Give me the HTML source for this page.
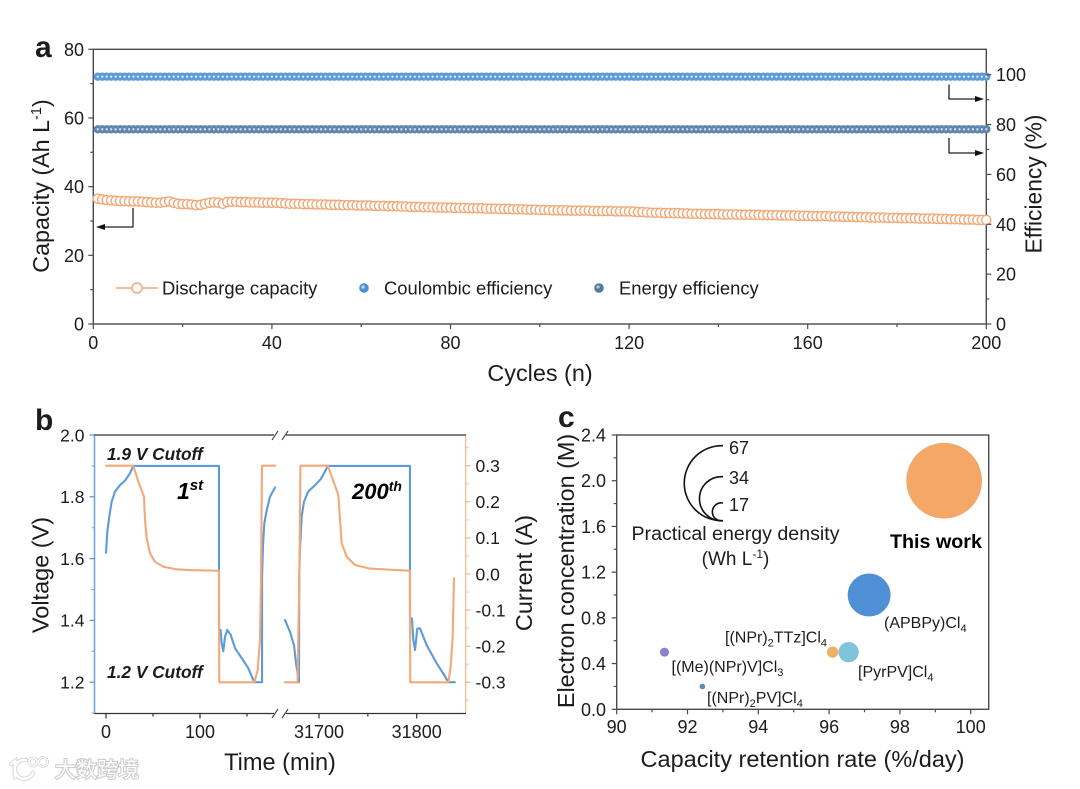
<!DOCTYPE html>
<html lang="en">
<head>
<meta charset="utf-8">
<title>Flow battery performance figure</title>
<style>
html,body{margin:0;padding:0;background:#fff;}
svg{display:block;font-family:"Liberation Sans","Noto Sans CJK SC",sans-serif;fill:#1c1c1c;}
</style>
</head>
<body>
<svg id="fig" xmlns="http://www.w3.org/2000/svg" width="1080" height="789" viewBox="0 0 1080 789">
  <rect x="0" y="0" width="1080" height="789" fill="#fff"/>

  <!-- Panel letters -->
  <text x="35" y="57" font-size="30" font-weight="bold">a</text>
  <text x="35" y="430" font-size="30" font-weight="bold">b</text>
  <text x="558" y="427" font-size="30" font-weight="bold">c</text>

  <!-- Panel a static -->
  <g id="panelA">
    <rect x="93.3" y="49.3" width="893" height="274.7" fill="none" stroke="#4a4a4a" stroke-width="1.4"/>
    <g id="a-series"></g>
    <g id="a-axes"></g>
    <text transform="translate(49,186) rotate(-90)" text-anchor="middle" font-size="23.3">Capacity (Ah L<tspan dy="-8" font-size="14.5">-1</tspan><tspan dy="8">)</tspan></text>
    <text transform="translate(1041.5,184) rotate(-90)" text-anchor="middle" font-size="22.8">Efficiency (%)</text>
    <text x="540" y="381" text-anchor="middle" font-size="23.4">Cycles (n)</text>

    <path d="M133 208V227H101" fill="none" stroke="#222" stroke-width="1.3"/>
    <path d="M96 227l9-3v6z" fill="#111"/>
    <path d="M949 84.5V99H978" fill="none" stroke="#222" stroke-width="1.3"/>
    <path d="M984 99l-9-3v6z" fill="#111"/>
    <path d="M949 138V153H978" fill="none" stroke="#222" stroke-width="1.3"/>
    <path d="M984 153l-9-3v6z" fill="#111"/>

    <g>
      <path d="M116 288H158" stroke="#F2A877" stroke-width="1.4" fill="none"/>
      <circle cx="137" cy="288" r="5" fill="#fff" stroke="#F2A877" stroke-width="1.5"/>
      <text x="162" y="294.5" font-size="18.4">Discharge capacity</text>
    </g>
    <g>
      <circle cx="364" cy="288" r="4.8" fill="#4E90D4"/>
      <circle cx="363" cy="287" r="1.6" fill="#BBD8F2"/>
      <text x="384" y="294.5" font-size="18.4">Coulombic efficiency</text>
    </g>
    <g>
      <circle cx="599" cy="288" r="4.8" fill="#55789F"/>
      <circle cx="598" cy="287" r="1.6" fill="#B5C8DC"/>
      <text x="619" y="294.5" font-size="18.4">Energy efficiency</text>
    </g>
  </g>

  <!-- Panel b static -->
  <g id="panelB">
    <path d="M94.5 435V713" stroke="#6FA7DC" stroke-width="1.6" fill="none"/>
    <path d="M465.7 435V713" stroke="#F4BE98" stroke-width="1.4" fill="none"/>
    <path d="M94 435H274" stroke="#333" stroke-width="1.2" fill="none"/>
    <path d="M286 435H466" stroke="#333" stroke-width="1.2" fill="none"/>
    <path d="M94 713.5H274" stroke="#333" stroke-width="1.2" fill="none"/>
    <path d="M286 713.5H466" stroke="#333" stroke-width="1.2" fill="none"/>
    <path d="M272 440L278 431M282 440L288 431" stroke="#333" stroke-width="1.1" fill="none"/>
    <path d="M272 718L278 709M282 718L288 709" stroke="#333" stroke-width="1.1" fill="none"/>
    <g id="b-axes"></g>
    <g id="b-series"></g>
    <text transform="translate(48.5,575) rotate(-90)" text-anchor="middle" font-size="23.5">Voltage (V)</text>
    <text transform="translate(532,573) rotate(-90)" text-anchor="middle" font-size="23.5">Current (A)</text>
    <text x="280" y="770" text-anchor="middle" font-size="23.6">Time (min)</text>
    <text x="107" y="460" font-size="17.3" font-weight="bold" font-style="italic">1.9 V Cutoff</text>
    <text x="107" y="678" font-size="17.3" font-weight="bold" font-style="italic">1.2 V Cutoff</text>
    <text x="177" y="499" font-size="23" font-weight="bold" font-style="italic" fill="#000">1<tspan dy="-9" font-size="15">st</tspan></text>
    <text x="352" y="499" font-size="22" font-weight="bold" font-style="italic" fill="#000">200<tspan dy="-8" font-size="14">th</tspan></text>
  </g>

  <!-- Panel c static -->
  <g id="panelC">
    <rect x="616.7" y="435" width="372" height="274.3" fill="none" stroke="#4a4a4a" stroke-width="1.4"/>
    <g id="c-axes"></g>
    <g id="c-series"></g>
    <text transform="translate(574,571) rotate(-90)" text-anchor="middle" font-size="23.4">Electron concentration (M)</text>
    <text x="802.5" y="767" text-anchor="middle" font-size="23.5">Capacity retention rate (%/day)</text>
    <path d="M723 445.7A37.52 37.52 0 1 0 723 520.7" fill="none" stroke="#111" stroke-width="1.6"/>
    <path d="M723 476.7A22.05 22.05 0 1 0 723 520.7" fill="none" stroke="#111" stroke-width="1.6"/>
    <path d="M723 503A9 9 0 1 0 723 520.7" fill="none" stroke="#111" stroke-width="1.6"/>
    <text x="729" y="454" font-size="18">67</text>
    <text x="729" y="484" font-size="18">34</text>
    <text x="729" y="511" font-size="18">17</text>
    <text x="735.5" y="540" text-anchor="middle" font-size="19.6">Practical energy density</text>
    <text x="735.5" y="565" text-anchor="middle" font-size="19">(Wh L<tspan dy="-7" font-size="12">-1</tspan><tspan dy="7">)</tspan></text>
    <text x="890" y="548" font-size="19.7" font-weight="bold" fill="#000">This work</text>
    <text x="884" y="628" font-size="16">(APBPy)Cl<tspan dy="4" font-size="11">4</tspan></text>
    <text x="858" y="677" font-size="16">[PyrPV]Cl<tspan dy="4" font-size="11">4</tspan></text>
    <text x="725" y="642.5" font-size="16">[(NPr)<tspan dy="4" font-size="11">2</tspan><tspan dy="-4">TTz]Cl</tspan><tspan dy="4" font-size="11">4</tspan></text>
    <text x="671.5" y="672" font-size="16">[(Me)(NPr)V]Cl<tspan dy="4" font-size="11">3</tspan></text>
    <text x="707" y="703" font-size="16">[(NPr)<tspan dy="4" font-size="11">2</tspan><tspan dy="-4">PV]Cl</tspan><tspan dy="4" font-size="11">4</tspan></text>
  </g>

  <!-- Watermark -->
  <g>
    <g fill="none" stroke-linecap="round">
      <path d="M11 764L15 761V777M33 773A9.5 9.5 0 1 1 26 760" stroke="#d4d4d4" stroke-width="4.5"/>
      <circle cx="33" cy="762" r="4" stroke="#d4d4d4" stroke-width="2.8"/>
      <circle cx="43" cy="762" r="4.5" stroke="#d4d4d4" stroke-width="2.8"/>
      <path d="M11 764L15 761V777M33 773A9.5 9.5 0 1 1 26 760" stroke="#fff" stroke-width="2.6"/>
      <circle cx="33" cy="762" r="4" stroke="#fff" stroke-width="1.3"/>
      <circle cx="43" cy="762" r="4.5" stroke="#fff" stroke-width="1.3"/>
    </g>
    <text x="55" y="777" font-size="21" fill="#fff" stroke="#cdcdcd" stroke-width="2.2" paint-order="stroke" style="font-family:'Liberation Sans','Noto Sans CJK SC',sans-serif;">大数跨境</text>
  </g>
</svg>

<script>
/* ---------- Panel a data ---------- */
const capacity = [
36.5,36.3,36.1,36.0,35.9,35.8,35.8,35.7,35.7,35.7,
35.6,35.5,35.4,35.3,35.3,35.5,35.7,35.3,35.0,34.9,
34.9,34.8,34.6,34.7,35.0,35.3,35.4,35.3,35.0,35.5,
35.6,35.6,35.5,35.5,35.4,35.4,35.4,35.3,35.3,35.3,
35.3,35.2,35.1,35.0,35.0,35.0,34.9,34.9,34.9,34.8,
34.8,34.8,34.7,34.7,34.7,34.6,34.6,34.6,34.5,34.5,
34.5,34.5,34.4,34.4,34.4,34.3,34.3,34.3,34.2,34.2,
34.1,34.1,34.1,34.0,34.0,34.0,33.9,33.9,33.9,33.9,
33.8,33.8,33.8,33.7,33.7,33.7,33.7,33.6,33.6,33.6,
33.5,33.5,33.5,33.4,33.4,33.4,33.3,33.3,33.3,33.2,
33.2,33.2,33.1,33.1,33.1,33.1,33.0,33.0,33.0,33.0,
33.0,32.9,32.9,32.9,32.9,32.9,32.8,32.8,32.8,32.8,
32.7,32.6,32.6,32.5,32.4,32.4,32.4,32.3,32.3,32.3,
32.3,32.2,32.2,32.1,32.1,32.1,32.0,32.0,32.0,32.0,
31.9,31.9,31.9,31.9,31.8,31.8,31.8,31.8,31.8,31.7,
31.7,31.7,31.7,31.6,31.6,31.6,31.6,31.5,31.5,31.5,
31.4,31.4,31.4,31.4,31.3,31.3,31.3,31.2,31.2,31.2,
31.1,31.1,31.1,31.0,31.0,31.0,31.0,30.9,30.9,30.9,
30.8,30.8,30.8,30.8,30.7,30.7,30.7,30.7,30.6,30.6,
30.6,30.5,30.5,30.5,30.4,30.4,30.4,30.3,30.3,30.3];
const coulombicEfficiency = [
99.2,99.2,99.2,99.2,99.2,99.2,99.2,99.2,99.2,99.2,99.2,99.2,99.2,99.2,99.2,99.2,99.2,99.2,99.2,99.2,
99.2,99.2,99.2,99.2,99.2,99.2,99.2,99.2,99.2,99.2,99.2,99.2,99.2,99.2,99.2,99.2,99.2,99.2,99.2,99.2,
99.2,99.2,99.2,99.2,99.2,99.2,99.2,99.2,99.2,99.2,99.2,99.2,99.2,99.2,99.2,99.2,99.2,99.2,99.2,99.2,
99.2,99.2,99.2,99.2,99.2,99.2,99.2,99.2,99.2,99.2,99.2,99.2,99.2,99.2,99.2,99.2,99.2,99.2,99.2,99.2,
99.2,99.2,99.2,99.2,99.2,99.2,99.2,99.2,99.2,99.2,99.2,99.2,99.2,99.2,99.2,99.2,99.2,99.2,99.2,99.2,
99.2,99.2,99.2,99.2,99.2,99.2,99.2,99.2,99.2,99.2,99.2,99.2,99.2,99.2,99.2,99.2,99.2,99.2,99.2,99.2,
99.2,99.2,99.2,99.2,99.2,99.2,99.2,99.2,99.2,99.2,99.2,99.2,99.2,99.2,99.2,99.2,99.2,99.2,99.2,99.2,
99.2,99.2,99.2,99.2,99.2,99.2,99.2,99.2,99.2,99.2,99.2,99.2,99.2,99.2,99.2,99.2,99.2,99.2,99.2,99.2,
99.2,99.2,99.2,99.2,99.2,99.2,99.2,99.2,99.2,99.2,99.2,99.2,99.2,99.2,99.2,99.2,99.2,99.2,99.2,99.2,
99.2,99.2,99.2,99.2,99.2,99.2,99.2,99.2,99.2,99.2,99.2,99.2,99.2,99.2,99.2,99.2,99.2,99.2,99.2,99.2];
const energyEfficiency = [
78.1,78.1,78.1,78.1,78.1,78.1,78.1,78.1,78.1,78.1,78.1,78.1,78.1,78.1,78.1,78.1,78.1,78.1,78.1,78.1,
78.1,78.1,78.1,78.1,78.1,78.1,78.1,78.1,78.1,78.1,78.1,78.1,78.1,78.1,78.1,78.1,78.1,78.1,78.1,78.1,
78.1,78.1,78.1,78.1,78.1,78.1,78.1,78.1,78.1,78.1,78.1,78.1,78.1,78.1,78.1,78.1,78.1,78.1,78.1,78.1,
78.1,78.1,78.1,78.1,78.1,78.1,78.1,78.1,78.1,78.1,78.1,78.1,78.1,78.1,78.1,78.1,78.1,78.1,78.1,78.1,
78.1,78.1,78.1,78.1,78.1,78.1,78.1,78.1,78.1,78.1,78.1,78.1,78.1,78.1,78.1,78.1,78.1,78.1,78.1,78.1,
78.1,78.1,78.1,78.1,78.1,78.1,78.1,78.1,78.1,78.1,78.1,78.1,78.1,78.1,78.1,78.1,78.1,78.1,78.1,78.1,
78.1,78.1,78.1,78.1,78.1,78.1,78.1,78.1,78.1,78.1,78.1,78.1,78.1,78.1,78.1,78.1,78.1,78.1,78.1,78.1,
78.1,78.1,78.1,78.1,78.1,78.1,78.1,78.1,78.1,78.1,78.1,78.1,78.1,78.1,78.1,78.1,78.1,78.1,78.1,78.1,
78.1,78.1,78.1,78.1,78.1,78.1,78.1,78.1,78.1,78.1,78.1,78.1,78.1,78.1,78.1,78.1,78.1,78.1,78.1,78.1,
78.1,78.1,78.1,78.1,78.1,78.1,78.1,78.1,78.1,78.1,78.1,78.1,78.1,78.1,78.1,78.1,78.1,78.1,78.1,78.1];
const cycleTicks = [0,40,80,120,160,200];
const cycleMinorTicks = [20,60,100,140,180];
const capacityTicks = [0,20,40,60,80];
const capacityMinorTicks = [10,30,50,70];
const efficiencyTicks = [0,20,40,60,80,100];
const efficiencyMinorTicks = [10,30,50,70,90];

/* ---------- Panel b data ---------- */
const cycle1VoltageTime = [0,1.4,3.5,6,9.6,14.9,20.2,25.5,29,120.2,120.2,122,123,124.8,126.6,129,132.7,137.2,144.4,151.4,157.8,166,166,167,168.4,171,174.5,179.8];
const cycle1Voltage = [1.619,1.687,1.736,1.784,1.817,1.838,1.852,1.876,1.9,1.9,1.37,1.369,1.327,1.30,1.347,1.369,1.353,1.31,1.278,1.245,1.2,1.2,1.54,1.64,1.714,1.757,1.80,1.83];
const cycle1CurrentTime = [0,29,34.4,40.4,41.5,43.3,46.8,52.1,61,75,89,120.2,120.5,157.8,161.4,163.8,164.9,165.9,180];
const cycle1Current = [0.3,0.3,0.256,0.214,0.15,0.099,0.057,0.034,0.02,0.013,0.011,0.009,-0.3,-0.3,-0.266,-0.183,-0.017,0.3,0.3];
const cycle200VoltageTime = [31665.2,31670.3,31674.4,31676.5,31679.5,31679.8,31680.5,31682.3,31684.6,31689,31696,31701.7,31706,31709,31793.1,31793.1,31795.2,31796.5,31798.3,31800.6,31803.4,31810.2,31820.5,31827.2,31832.4,31839];
const cycle200Voltage = [1.401,1.363,1.32,1.261,1.2,1.55,1.63,1.736,1.784,1.817,1.838,1.857,1.881,1.9,1.9,1.41,1.405,1.337,1.304,1.374,1.374,1.32,1.261,1.228,1.2,1.2];
const cycle200CurrentTime = [31665,31678,31680,31681,31709,31719.8,31721.5,31723.2,31728.3,31736.8,31752,31793.1,31793.4,31832.4,31834.8,31836.8,31838.2];
const cycle200Current = [-0.3,-0.3,0,0.3,0.3,0.219,0.15,0.085,0.048,0.025,0.015,0.009,-0.3,-0.3,-0.257,-0.174,-0.012];
const timeTicks = [0,100,31700,31800];
const timeMinorTicks = [50,150,31750];
const voltageTicks = [1.2,1.4,1.6,1.8,2.0];
const voltageMinorTicks = [1.1,1.3,1.5,1.7,1.9];
const currentTicks = [-0.3,-0.2,-0.1,0,0.1,0.2,0.3];
const currentMinorTicks = [-0.35,-0.25,-0.15,-0.05,0.05,0.15,0.25,0.35];
const currentTickLabels = ['-0.3','-0.2','-0.1','0.0','0.1','0.2','0.3'];

/* ---------- Panel c data ---------- */
const bubbleNames = ['this-work','apbpy','pyrpv','npr2ttz','menprv','npr2pv'];
const retentionRate = [99.25,97.13,96.55,96.1,91.35,92.42];
const electronConc = [2.0,1.0,0.5,0.5,0.5,0.2];
const energyDensity = [67,38,18,10,8,5];
const retentionTicks = [90,92,94,96,98,100];
const retentionMinorTicks = [91,93,95,97,99];
const concTicks = [0,0.4,0.8,1.2,1.6,2.0,2.4];
const concMinorTicks = [0.2,0.6,1.0,1.4,1.8,2.2];
const bubblePalette = ['#F4A767','#4E8FD6','#7FC4D8','#EBB266','#8A80D0','#5F8DB5'];

/* ---------- Scales ---------- */
const aX = c => 93.3 + c * 4.465;
const aYL = v => 324 - v * 3.434;
const aYR = v => 324 - v * 2.493;
const bX = t => t < 1000 ? 106 + t * 0.94 : 319 + (t - 31700) * 0.977;
const bYV = v => 435 + (2 - v) * 309;
const bYC = c => 574 - c * 361;
const cX = v => 616.7 + (v - 90) * 35.4;
const cY = v => 709.3 - v * 114.3;
const cR = e => e * 0.565;

const NS = 'http://www.w3.org/2000/svg';
function make(parent, tag, attrs) {
  const el = document.createElementNS(NS, tag);
  for (const k in attrs) el.setAttribute(k, attrs[k]);
  parent.appendChild(el);
  return el;
}
function hTick(parent, name, x, y, dir, len, color) {
  const el = make(parent, 'line', {x1: x, x2: x + dir * len, y1: y, y2: y, stroke: color, 'stroke-width': 1.2});
  
  
}
function vTick(parent, name, x, y, len, color) {
  const el = make(parent, 'line', {x1: x, x2: x, y1: y, y2: y + len, stroke: color, 'stroke-width': 1.2});
  
  
}
function label(parent, name, x, y, anchor, size, str) {
  const el = make(parent, 'text', {x: x, y: y, 'text-anchor': anchor, 'font-size': size});
  el.textContent = str;
  
  
}

/* ---------- Panel a ---------- */
const aAxes = document.getElementById('a-axes');
const aSeries = document.getElementById('a-series');
const axisGrey = '#4a4a4a';
cycleTicks.forEach(v => {
  vTick(aAxes, 'cycle-tick-' + v, aX(v), 324, 5, axisGrey);
  label(aAxes, 'cycle-tick-label-' + v, aX(v), 349, 'middle', 18, String(v));
});
cycleMinorTicks.forEach(v => vTick(aAxes, 'cycle-minor-tick-' + v, aX(v), 324, 3, axisGrey));
capacityTicks.forEach(v => {
  hTick(aAxes, 'capacity-tick-' + v, 93.3, aYL(v), -1, 5, axisGrey);
  label(aAxes, 'capacity-tick-label-' + v, 84, aYL(v) + 6.5, 'end', 18, String(v));
});
capacityMinorTicks.forEach(v => hTick(aAxes, 'capacity-minor-tick-' + v, 93.3, aYL(v), -1, 3, axisGrey));
efficiencyTicks.forEach(v => {
  hTick(aAxes, 'efficiency-tick-' + v, 986.3, aYR(v), 1, 5, axisGrey);
  label(aAxes, 'efficiency-tick-label-' + v, 996, aYR(v) + 6.5, 'start', 18, String(v));
});
efficiencyMinorTicks.forEach(v => hTick(aAxes, 'efficiency-minor-tick-' + v, 986.3, aYR(v), 1, 3, axisGrey));

capacity.forEach((v, i) => {
  const pt = make(aSeries, 'circle', {cx: aX(i + 1), cy: aYL(v), r: 4.6, fill: '#fff', stroke: '#F2A877', 'stroke-width': 1.4});
  
  
});
coulombicEfficiency.forEach((v, i) => {
  const pt = make(aSeries, 'circle', {cx: aX(i + 1), cy: aYR(v), r: 4.2, fill: '#5C9BD8'});
  
  
});
coulombicEfficiency.forEach((v, i) => {
  const hi = make(aSeries, 'circle', {cx: aX(i + 1), cy: aYR(v), r: 1.15, fill: '#DCEBF8'});
  
  
});
energyEfficiency.forEach((v, i) => {
  const pt = make(aSeries, 'circle', {cx: aX(i + 1), cy: aYR(v), r: 4.2, fill: '#5F86B0'});
  
  
});
energyEfficiency.forEach((v, i) => {
  const hi = make(aSeries, 'circle', {cx: aX(i + 1), cy: aYR(v), r: 1.15, fill: '#D5E1EC'});
  
  
});

/* ---------- Panel b ---------- */
const bAxes = document.getElementById('b-axes');
const bSeries = document.getElementById('b-series');
timeTicks.forEach(v => {
  vTick(bAxes, 'time-tick-' + v, bX(v), 713.5, 5, '#333');
  label(bAxes, 'time-tick-label-' + v, bX(v), 738, 'middle', 18, String(v));
});
timeMinorTicks.forEach(v => vTick(bAxes, 'time-minor-tick-' + v, bX(v), 713.5, 3, '#333'));
voltageTicks.forEach(v => {
  hTick(bAxes, 'voltage-tick-' + v, 94.5, bYV(v), -1, 5, '#5A8FC4');
  label(bAxes, 'voltage-tick-label-' + v, 84.5, bYV(v) + 6.3, 'end', 17.5, v.toFixed(1));
});
voltageMinorTicks.forEach(v => hTick(bAxes, 'voltage-minor-tick-' + v, 94.5, bYV(v), -1, 3, '#7FB0E0'));
currentTicks.forEach((v, i) => {
  hTick(bAxes, 'current-tick-' + v, 465.7, bYC(v), 1, 5, '#F2B48A');
  label(bAxes, 'current-tick-label-' + v, 475.5, bYC(v) + 6.3, 'start', 17.5, currentTickLabels[i]);
});
currentMinorTicks.forEach(v => hTick(bAxes, 'current-minor-tick-' + v, 465.7, bYC(v), 1, 3, '#F4C6A6'));

function trace(name, xs, ys, yScale, color) {
  const el = make(bSeries, 'polyline', {points: xs.map((t, i) => bX(t) + ',' + yScale(ys[i])).join(' '), fill: 'none', stroke: color, 'stroke-width': 2.1, 'stroke-linejoin': 'round', 'stroke-linecap': 'round'});
  
  
}
const voltColor = '#5C9BD8';
const currColor = '#F2A877';
trace('voltage-cycle-1', cycle1VoltageTime, cycle1Voltage, bYV, voltColor);
trace('voltage-cycle-200', cycle200VoltageTime, cycle200Voltage, bYV, voltColor);
trace('current-cycle-1', cycle1CurrentTime, cycle1Current, bYC, currColor);
trace('current-cycle-200', cycle200CurrentTime, cycle200Current, bYC, currColor);

/* ---------- Panel c ---------- */
const cAxes = document.getElementById('c-axes');
const cSeries = document.getElementById('c-series');
retentionTicks.forEach(v => {
  vTick(cAxes, 'retention-tick-' + v, cX(v), 709.3, 5, axisGrey);
  label(cAxes, 'retention-tick-label-' + v, cX(v), 733, 'middle', 18, String(v));
});
retentionMinorTicks.forEach(v => vTick(cAxes, 'retention-minor-tick-' + v, cX(v), 709.3, 3, axisGrey));
concTicks.forEach(v => {
  hTick(cAxes, 'conc-tick-' + v, 616.7, cY(v), -1, 5, axisGrey);
  label(cAxes, 'conc-tick-label-' + v, 606, cY(v) + 6.5, 'end', 18, v.toFixed(1));
});
concMinorTicks.forEach(v => hTick(cAxes, 'conc-minor-tick-' + v, 616.7, cY(v), -1, 3, axisGrey));
retentionRate.forEach((v, i) => {
  const b = make(cSeries, 'circle', {cx: cX(v), cy: cY(electronConc[i]), r: cR(energyDensity[i]), fill: bubblePalette[i]});
  
  
});
</script>
</body>
</html>
